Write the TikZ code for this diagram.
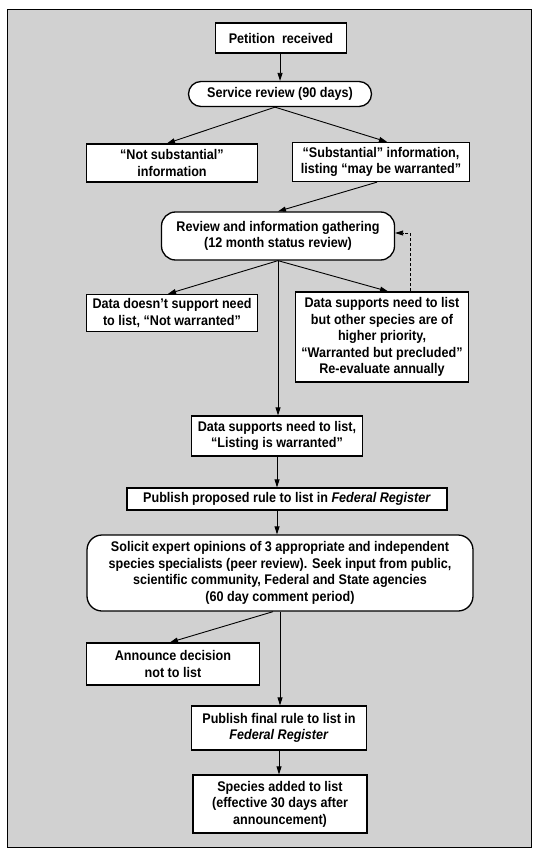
\documentclass[tikz,border=0pt]{standalone}
\usepackage{fontspec}
\setmainfont{Liberation Sans}[FakeStretch=0.9]
\usetikzlibrary{arrows.meta,calc}
\tikzset{
  box/.style={draw=black, line width=1.3pt, fill=white, align=center, inner sep=0pt,
    font=\fontsize{14}{16.5}\selectfont\bfseries},
  rbox/.style={box, rounded corners=#1},
  arr/.style={line width=0.9pt, -{Triangle[length=8pt,width=5pt]}},
  dasharr/.style={arr, dashed, dash pattern=on 3pt off 2pt},
}
\begin{document}
\begin{tikzpicture}[x=1pt,y=-1pt]
\useasboundingbox (0,0) rectangle (534,850);
\draw[fill=black!18, line width=0.6pt] (7,9) rectangle (531,847);

\node[box, minimum width=131, minimum height=30] (pet) at (281,38) {Petition\ \ received};
\node[rbox=12.5pt, minimum width=183, minimum height=25] (svc) at (280,94) {Service review (90 days)};
\node[box, minimum width=171, minimum height=38] (ns) at (172,163) {“Not substantial”\\information};
\node[box, minimum width=177, minimum height=39] (sub) at (381,162) {“Substantial” information,\\listing “may be warranted”};
\node[rbox=14pt, minimum width=233, minimum height=48] (rev) at (278,236) {Review and information gathering\\(12 month status review)};
\node[box, minimum width=171, minimum height=37] (dns) at (172,313) {Data doesn’t support need\\to list, “Not warranted”};
\node[box, minimum width=173, minimum height=90] (wbp) at (382,337) {Data supports need to list\\but other species are of\\higher priority,\\“Warranted but precluded”\\Re-evaluate annually};
\node[box, minimum width=171, minimum height=40] (lw) at (277,436) {Data supports need to list,\\“Listing is warranted”};
\node[box, minimum width=320, minimum height=22] (ppr) at (287,499) {Publish proposed rule to list in \textit{Federal Register}};
\node[rbox=15pt, minimum width=386, minimum height=76] (sol) at (280,573) {Solicit expert opinions of 3 appropriate and independent\\species specialists (peer review). Seek input from public,\\scientific community, Federal and State agencies\\(60 day comment period)};
\node[box, minimum width=173, minimum height=42] (ann) at (173,664) {Announce decision\\not to list};
\node[box, minimum width=175, minimum height=44] (pfr) at (279,728) {Publish final rule to list in\\\textit{Federal Register}};
\node[box, minimum width=174, minimum height=58] (spa) at (280,804) {Species added to list\\(effective 30 days after\\announcement)};

\coordinate (fb) at (410,233);

\draw[arr] (pet.south -| svc.north) -- (svc.north);
\draw[arr] ([xshift=-5pt]svc.south) -- ([xshift=-5pt]ns.north);
\draw[arr] ([xshift=-5pt]svc.south) -- ([xshift=6pt]sub.north);
\draw[arr] ([xshift=-4pt]sub.south) -- (rev.north);
\draw[arr] (rev.south) -- ([xshift=-4pt]dns.north);
\draw[arr] (rev.south) -- ([xshift=6pt]wbp.north);
\draw[arr] (rev.south) -- (rev.south |- lw.north);
\draw[dasharr] (wbp.north -| fb) -- (fb) -- (rev.east |- fb);
\draw[arr] (lw.south) -- (lw.south |- ppr.north);
\draw[arr] (lw.south |- ppr.south) -- (lw.south |- sol.north);
\draw[arr] ([xshift=-7pt]sol.south) -- ([xshift=-3pt]ann.north);
\draw[arr] (sol.south) -- (sol.south |- pfr.north);
\draw[arr] (pfr.south) -- (pfr.south |- spa.north);
\end{tikzpicture}
\end{document}
